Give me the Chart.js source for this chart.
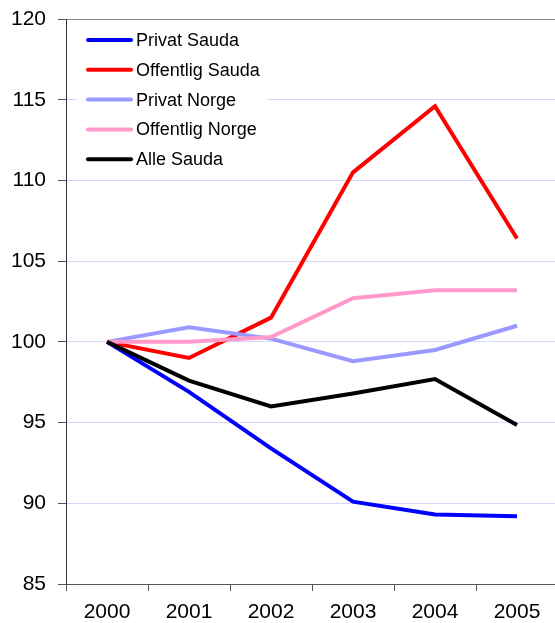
<!DOCTYPE html>
<html>
<head>
<meta charset="utf-8">
<script src="https://cdn.jsdelivr.net/npm/chart.js@4.4.1/dist/chart.umd.min.js"></script>
<style>
html,body{margin:0;padding:0;background:#fff;width:555px;height:623px;overflow:hidden;}
#wrap{width:562px;height:623px;}
</style>
</head>
<body>
<div id="wrap"><canvas id="c" width="562" height="623"></canvas></div>
<script>
const years = ['2000','2001','2002','2003','2004','2005'];
const seriesNames = ['Privat Sauda','Offentlig Sauda','Privat Norge','Offentlig Norge','Alle Sauda'];
const privatSauda    = [100, 96.9, 93.4, 90.1, 89.3, 89.2];
const offentligSauda = [100, 99.0, 101.5, 110.5, 114.6, 106.4];
const privatNorge    = [100, 100.9, 100.2, 98.8, 99.5, 101.0];
const offentligNorge = [100, 100.0, 100.3, 102.7, 103.2, 103.2];
const alleSauda      = [100, 97.6, 96.0, 96.8, 97.7, 94.85];
const yTicks = [85, 90, 95, 100, 105, 110, 115, 120];

const colors = ['#0000ff','#ff0000','#9999ff','#ff99cc','#000000'];
const values = [privatSauda, offentligSauda, privatNorge, offentligNorge, alleSauda];
const FONT = '"Liberation Sans", Arial, sans-serif';

const datasets = seriesNames.map((n,i)=>({
  label:n, data:values[i], borderColor:colors[i], backgroundColor:colors[i],
  borderWidth:4, pointRadius:0, tension:0, fill:false, order: seriesNames.length-1-i,
  borderJoinStyle:'miter', borderCapStyle:'butt'
}));

const legendPlugin = {
  id:'insideLegend',
  beforeDatasetsDraw(chart){
    const ctx = chart.ctx;
    ctx.save();
    ctx.fillStyle = '#ffffff';
    ctx.fillRect(77, 26, 190, 148);
    ctx.font = '18px ' + FONT;
    ctx.textBaseline = 'middle';
    ctx.textAlign = 'left';
    seriesNames.forEach((n,i)=>{
      const y = 40 + i*29.8;
      ctx.strokeStyle = colors[i];
      ctx.lineWidth = 4;
      ctx.lineCap = 'round';
      ctx.beginPath(); ctx.moveTo(88,y); ctx.lineTo(131,y); ctx.stroke();
      ctx.fillStyle = '#000';
      ctx.fillText(n, 136, y+1);
    });
    ctx.restore();
  }
};

new Chart(document.getElementById('c'), {
  type:'line',
  data:{labels:years, datasets},
  options:{
    responsive:false, animation:false,
    layout:{padding:{top:19, right:4, left:0, bottom:0}},
    plugins:{legend:{display:false}, tooltip:{enabled:false}},
    scales:{
      x:{
        offset:true,
        grid:{offset:true, drawOnChartArea:false, tickLength:7, tickColor:'#555', lineWidth:1},
        border:{color:'#555', width:1},
        ticks:{color:'#000', font:{family:FONT, size:21}, padding:9, maxRotation:0},
        afterFit(s){ s.height = 39; s.paddingLeft = 0; s.paddingRight = 0; }
      },
      y:{
        min:85, max:120,
        afterBuildTicks(s){ s.ticks = yTicks.map(v=>({value:v})); },
        grid:{
          color:(c)=> c.tick && c.tick.value===120 ? '#888888' : '#d8d8ff',
          tickColor:'#555', tickLength:8, lineWidth:1
        },
        border:{color:'#333', width:1},
        ticks:{color:'#000', font:{family:FONT, size:21}, padding:12},
        afterFit(s){ s.width = 66; s.paddingTop = 0; s.paddingBottom = 0; }
      }
    }
  },
  plugins:[legendPlugin]
});
</script>
</body>
</html>
